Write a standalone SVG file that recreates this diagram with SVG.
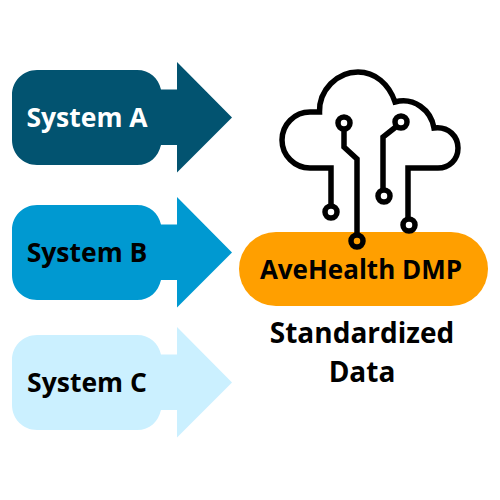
<svg xmlns="http://www.w3.org/2000/svg" width="500" height="500" viewBox="0 0 500 500">
<style>
text{font-family:"Open Sans","Noto Sans",sans-serif;font-weight:700;text-anchor:middle;fill:#000}
.w{stroke:#000;stroke-width:5.500;fill:none;stroke-linejoin:miter}
.a{fill:#025370}.b{fill:#0099d1}.c{fill:#cbf0ff}
</style>
<rect width="500" height="500" fill="#fff"/>
<defs>
<path id="arrow" d="M37 0H137C150 0 158 8 161 19.500H177V-8L232 47.500L177 102.500V75H161C158 87 150 95 137 95H37C23 95 12 84 12 70V25C12 11 23 0 37 0Z"/>
</defs>
<g id="system-a"><use href="#arrow" y="70" class="a"/><text x="87" y="127" font-size="26.500" style="fill:#fff">System A</text></g>
<g id="system-b"><use href="#arrow" y="205" class="b"/><text x="87" y="262" font-size="26.500">System B</text></g>
<g id="system-c"><use href="#arrow" y="335" class="c"/><text x="87" y="392" font-size="26.500">System C</text></g>
<g id="dmp"><rect x="239" y="232" width="249" height="74" rx="37" fill="#ff9f00"/><text x="361" y="279" font-size="26">AveHealth DMP</text></g>
<g id="cloud">
<path class="w" d="M331 206V168H310A28 28 0 0 1 310 112H319.500C319 90 337 72 358 72C375 72 389 84 395 102C414 97 431 110 434 128C449 126 458 137 458 148C458 160 449 168 438 168H408V219"/>
<path class="w" d="M344 129V147L357 159V235"/>
<path class="w" d="M397 126L383 137V190"/>
<circle class="w" cx="344" cy="123" r="6"/>
<circle class="w" cx="401" cy="122" r="6"/>
<circle class="w" cx="331" cy="212" r="6"/>
<circle class="w" cx="384" cy="196" r="6"/>
<circle class="w" cx="409" cy="225" r="6"/>
<circle class="w" cx="357" cy="241" r="6"/>
</g>
<g id="caption"><text x="362" y="343" font-size="28">Standardized</text><text x="362" y="382" font-size="28">Data</text></g>
</svg>
